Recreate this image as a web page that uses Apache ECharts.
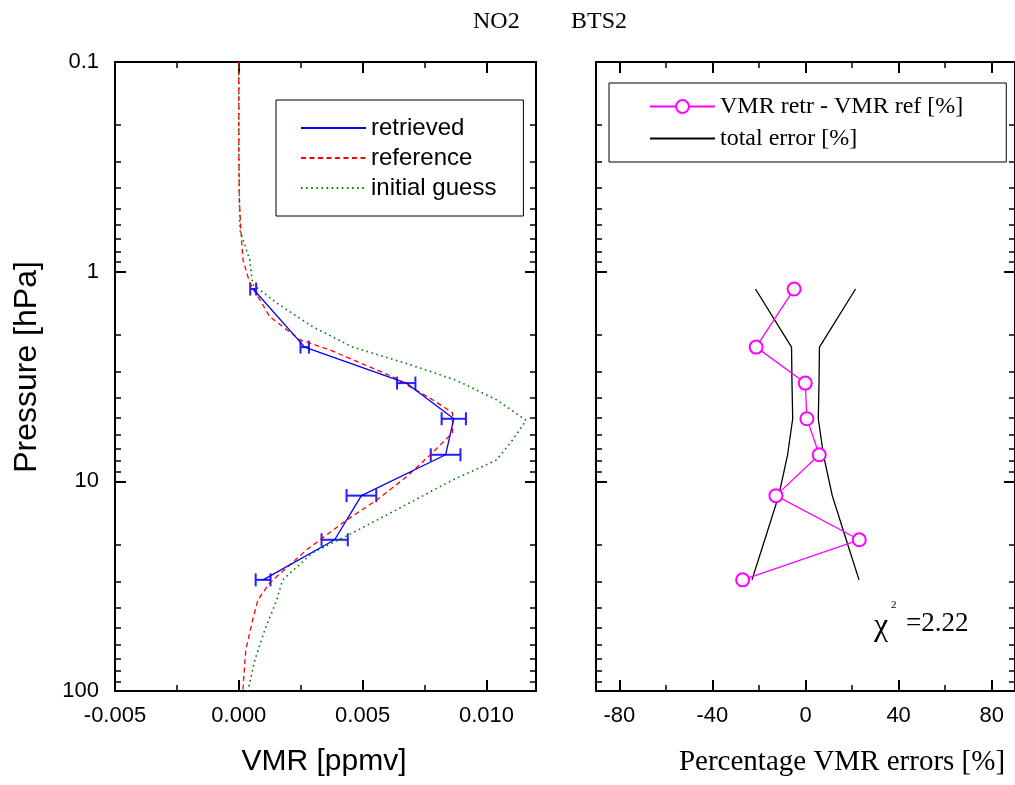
<!DOCTYPE html>
<html>
<head>
<meta charset="utf-8">
<script src="https://cdn.jsdelivr.net/npm/echarts@6/dist/echarts.min.js"></script>
<style>
html,body{margin:0;padding:0;background:#fff;}
#chart{width:1015px;height:785px;}
</style>
</head>
<body>
<div id="chart"></div>
<script>
// ---------- data ----------
const retrievedPressure = [1.21, 2.29, 3.40, 5.03, 7.47, 11.7, 19.0, 29.5];
const retrievedVmr = [0.00058, 0.00266, 0.00676, 0.00868, 0.00835, 0.00495, 0.00387, 0.00098];
const retrievedErr = [0.00012, 0.00017, 0.00037, 0.00049, 0.00060, 0.00060, 0.00053, 0.00030];

const refPressure = [0.1, 0.26, 0.45, 0.63, 0.88, 1.13, 1.64, 2.11, 2.36, 3.17, 4.08, 4.71, 5.87, 7.31, 9.52, 12.3, 15.3, 21.2, 30.5, 36.8, 45.8, 63.7, 100];
const refVmr = [0.0, 0.0, 0.00002, 0.00008, 0.00017, 0.00044, 0.00125, 0.00246, 0.00367, 0.00621, 0.00782, 0.00863, 0.00863, 0.00782, 0.00677, 0.00556, 0.00435, 0.00274, 0.00125, 0.00077, 0.00056, 0.00028, 0.00016];

const guessPressure = [0.1, 0.26, 0.63, 0.88, 1.15, 1.41, 1.83, 2.29, 2.74, 3.30, 4.08, 5.12, 6.36, 7.92, 9.86, 13.2, 17.6, 21.9, 29.5, 36.8, 51.1, 71.0, 100];
const guessVmr = [0.0, 0.0, 0.00004, 0.00044, 0.00056, 0.00153, 0.00298, 0.0046, 0.00677, 0.00879, 0.0104, 0.0116, 0.01105, 0.0104, 0.00863, 0.00661, 0.0046, 0.00298, 0.00177, 0.00153, 0.00105, 0.00065, 0.00036];

const diffPct = [-4.9, -21.2, -0.1, 0.6, 5.9, -12.7, 23.1, -27.0];
const totalErrPct = [21.5, 6.0, 5.8, 5.5, 7.7, 11.5, 17.5, 23.0];

const leftXLabels = [-0.005, 0.000, 0.005, 0.010];
const leftXMinor = [-0.0025, 0.0025, 0.0075];
const rightXLabels = [-80, -40, 0, 40, 80];
const rightXMinor = [-60, -20, 20, 60];
const yMajor = [0.1, 1, 10, 100];
const yMinor = [0.2,0.3,0.4,0.5,0.6,0.7,0.8,0.9, 2,3,4,5,6,7,8,9, 20,30,40,50,60,70,80,90];

// ---------- helpers ----------
const SANS = 'Liberation Sans';
const SERIF = 'Liberation Serif';
const lineSt = {color:'#000', width:2};

function xAxesFor(grid, min, max, labels, minor, fmt){
  const base = {type:'value', gridIndex:grid, min:min, max:max, splitLine:{show:false}};
  return [
    Object.assign({}, base, {position:'bottom',
      axisLine:{show:true, onZero:false, lineStyle:lineSt},
      axisTick:{show:true, inside:true, length:11, lineStyle:{width:2,color:'#000'}, customValues:labels},
      axisLabel:{show:true, customValues:labels, formatter:fmt, margin:14, fontFamily:SANS, fontSize:22, color:'#000'}}),
    Object.assign({}, base, {position:'top',
      axisLine:{show:true, onZero:false, lineStyle:lineSt},
      axisTick:{show:true, inside:true, length:11, lineStyle:{width:2,color:'#000'}, customValues:labels},
      axisLabel:{show:false}}),
    Object.assign({}, base, {position:'top',
      axisLine:{show:false, onZero:false},
      axisTick:{show:true, inside:true, length:6, lineStyle:{width:1.5,color:'#000'}, customValues:minor},
      axisLabel:{show:false}}),
    Object.assign({}, base, {position:'bottom',
      axisLine:{show:false, onZero:false},
      axisTick:{show:true, inside:true, length:6, lineStyle:{width:1.5,color:'#000'}, customValues:minor},
      axisLabel:{show:false}})
  ];
}
function yAxesFor(grid, showLabels){
  const base = {type:'log', logBase:10, gridIndex:grid, min:0.1, max:100, inverse:true, splitLine:{show:false}};
  return [
    Object.assign({}, base, {position:'left',
      axisLine:{show:true, onZero:false, lineStyle:lineSt},
      axisTick:{show:true, inside:true, length:11, lineStyle:{width:2,color:'#000'}, customValues:yMajor},
      axisLabel:{show:showLabels, customValues:yMajor, margin:16, fontFamily:SANS, fontSize:22, color:'#000',
        formatter:function(v){return String(+(+v).toPrecision(3));}}}),
    Object.assign({}, base, {position:'right',
      axisLine:{show:true, onZero:false, lineStyle:lineSt},
      axisTick:{show:true, inside:true, length:11, lineStyle:{width:2,color:'#000'}, customValues:yMajor},
      axisLabel:{show:false}}),
    Object.assign({}, base, {position:'left',
      axisLine:{show:false, onZero:false},
      axisTick:{show:true, inside:true, length:6, lineStyle:{width:1.5,color:'#000'}, customValues:yMinor},
      axisLabel:{show:false}}),
    Object.assign({}, base, {position:'right',
      axisLine:{show:false, onZero:false},
      axisTick:{show:true, inside:true, length:6, lineStyle:{width:1.5,color:'#000'}, customValues:yMinor},
      axisLabel:{show:false}})
  ];
}
function pairs(xs, ys){ return xs.map((x,i)=>[x, ys[i]]); }
const noSym = {opacity:0, borderWidth:0};

const chart = echarts.init(document.getElementById('chart'), null, {renderer:'canvas'});

const option = {
  backgroundColor:'#fff',
  animation:false,
  grid:[
    {left:115, top:62, width:421, height:629},
    {left:596, top:62, width:422, height:629}
  ],
  xAxis: [].concat(
    xAxesFor(0, -0.005, 0.012, leftXLabels, leftXMinor, function(v){return (+v).toFixed(3);}),
    xAxesFor(1, -90, 90, rightXLabels, rightXMinor, function(v){return String(Math.round(v));})
  ),
  yAxis: [].concat(yAxesFor(0, true), yAxesFor(1, false)),
  legend:[
    {
      left:276, top:100, orient:'vertical', selectedMode:false,
      data:[
        {name:'retrieved', itemStyle:noSym},
        {name:'reference', itemStyle:noSym},
        {name:'initial guess', itemStyle:noSym}
      ],
      backgroundColor:'#fff', borderColor:'#000', borderWidth:1,
      padding:[16,27,16,24], itemWidth:65, itemHeight:14, itemGap:6,
      textStyle:{fontFamily:SANS, fontSize:24, lineHeight:24, color:'#000'}
    },
    {
      left:609, top:83, orient:'vertical', selectedMode:false,
      data:[
        {name:'VMR retr - VMR ref [%]'},
        {name:'total error [%]', itemStyle:noSym}
      ],
      backgroundColor:'#fff', borderColor:'#000', borderWidth:1,
      padding:[11.5,43,11.5,40], itemWidth:65, itemHeight:16, itemGap:8,
      textStyle:{fontFamily:SERIF, fontSize:24, lineHeight:24, color:'#000'}
    }
  ],
  series:[
    {
      name:'initial guess', type:'line', xAxisIndex:0, yAxisIndex:0,
      data:pairs(guessVmr, guessPressure), symbol:'none',
      lineStyle:{color:'#008000', width:1.6, type:[1.6,3.5]}, itemStyle:{color:'#008000'}
    },
    {
      name:'reference', type:'line', xAxisIndex:0, yAxisIndex:0,
      data:pairs(refVmr, refPressure), symbol:'none',
      lineStyle:{color:'#ff0000', width:1.3, type:[5,3.5]}, itemStyle:{color:'#ff0000'}
    },
    {
      name:'retrieved', type:'line', xAxisIndex:0, yAxisIndex:0,
      data:pairs(retrievedVmr, retrievedPressure), symbol:'none',
      lineStyle:{color:'#0000ff', width:1.3}, itemStyle:{color:'#0000ff'}
    },
    {
      name:'retrieved error', type:'custom', xAxisIndex:0, yAxisIndex:0,
      data:retrievedVmr.map((v,i)=>[v, retrievedPressure[i], retrievedErr[i]]),
      encode:{x:0, y:1},
      renderItem:function(params, api){
        const v = api.value(0), p = api.value(1), e = api.value(2);
        const a = api.coord([v - e, p]), b = api.coord([v + e, p]);
        const h = 6.5;
        const st = {stroke:'#2020ff', lineWidth:2};
        return {type:'group', children:[
          {type:'line', shape:{x1:a[0], y1:a[1], x2:b[0], y2:b[1]}, style:st},
          {type:'line', shape:{x1:a[0], y1:a[1]-h, x2:a[0], y2:a[1]+h}, style:st},
          {type:'line', shape:{x1:b[0], y1:b[1]-h, x2:b[0], y2:b[1]+h}, style:st}
        ]};
      }
    },
    {
      name:'total error [%]', type:'line', xAxisIndex:4, yAxisIndex:4,
      data:pairs(totalErrPct.map(e=>-e), retrievedPressure), symbol:'none',
      lineStyle:{color:'#000', width:1.3}, itemStyle:{color:'#000'}
    },
    {
      name:'total error [%]', type:'line', xAxisIndex:4, yAxisIndex:4,
      data:pairs(totalErrPct, retrievedPressure), symbol:'none',
      lineStyle:{color:'#000', width:1.3}, itemStyle:{color:'#000'}
    },
    {
      name:'VMR retr - VMR ref [%]', type:'line', xAxisIndex:4, yAxisIndex:4,
      data:pairs(diffPct, retrievedPressure), symbol:'emptyCircle', symbolSize:13,
      lineStyle:{color:'#ff00ff', width:1.3},
      itemStyle:{color:'#ff00ff', borderColor:'#ff00ff', borderWidth:1.5}
    }
  ],
  graphic:{elements:[
    {type:'text', x:473, y:22, style:{text:'NO2', fontFamily:SERIF, fontSize:24, fill:'#000', align:'left', verticalAlign:'middle'}},
    {type:'text', x:571, y:22, style:{text:'BTS2', fontFamily:SERIF, fontSize:24, fill:'#000', align:'left', verticalAlign:'middle'}},
    {type:'text', x:27, y:367, rotation:Math.PI/2, style:{text:'Pressure [hPa]', fontFamily:SANS, fontSize:32, fill:'#000', align:'center', verticalAlign:'middle'}},
    {type:'text', x:324, y:762, style:{text:'VMR [ppmv]', fontFamily:SANS, fontSize:30, fill:'#000', align:'center', verticalAlign:'middle'}},
    {type:'text', x:842, y:762, style:{text:'Percentage VMR errors [%]', fontFamily:SERIF, fontSize:29, fill:'#000', align:'center', verticalAlign:'middle'}},
    {type:'text', x:874, y:627, style:{text:'\u03C7', fontFamily:SERIF, fontSize:32, fill:'#000', align:'left', verticalAlign:'middle'}},
    {type:'text', x:891, y:605, style:{text:'2', fontFamily:SERIF, fontSize:11, fill:'#000', align:'left', verticalAlign:'middle'}},
    {type:'text', x:906, y:624, style:{text:'=2.22', fontFamily:SERIF, fontSize:27, fill:'#000', align:'left', verticalAlign:'middle'}}
  ]}
};
chart.setOption(option);
</script>
</body>
</html>
